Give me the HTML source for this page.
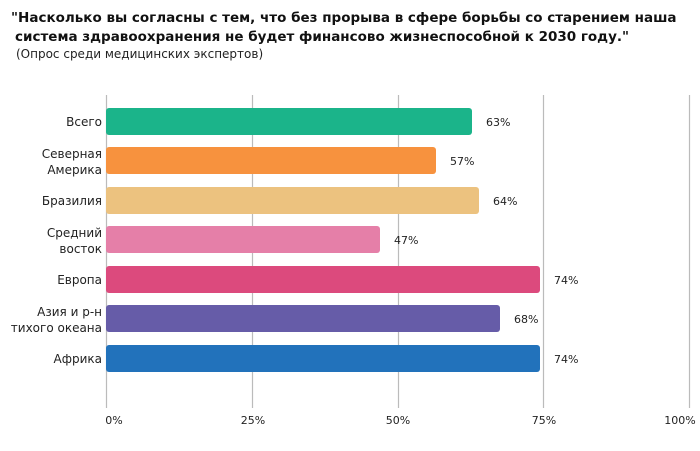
<!DOCTYPE html>
<html><head><meta charset="utf-8"><style>
body{margin:0;width:700px;height:446px;background:#fff;overflow:hidden;font-family:"Liberation Sans","DejaVu Sans",sans-serif;}
</style></head><body>
<svg width="700" height="446" xmlns="http://www.w3.org/2000/svg" font-family="DejaVu Sans, Liberation Sans, sans-serif">
<text x="11" y="22" font-size="13.5" font-weight="bold" fill="#111">"Насколько вы согласны с тем, что без прорыва в сфере борьбы со старением наша</text>
<text x="15" y="41" font-size="13.5" font-weight="bold" fill="#111">система здравоохранения не будет финансово жизнеспособной к 2030 году."</text>
<text x="16" y="58" font-size="12" fill="#222">(Опрос среди медицинских экспертов)</text>
<g stroke="#bbb" stroke-width="1.2">
<line x1="106.5" y1="95" x2="106.5" y2="408"/>
<line x1="252.5" y1="95" x2="252.5" y2="408"/>
<line x1="398.5" y1="95" x2="398.5" y2="408"/>
<line x1="543.5" y1="95" x2="543.5" y2="408"/>
<line x1="689.5" y1="95" x2="689.5" y2="408"/>
</g>
<g>
<rect x="106" y="108" width="366" height="27" rx="3" fill="#1bb48a"/>
<rect x="106" y="147" width="330" height="27" rx="3" fill="#f7923e"/>
<rect x="106" y="187" width="373" height="27" rx="3" fill="#ecc27f"/>
<rect x="106" y="226" width="274" height="27" rx="3" fill="#e57fa8"/>
<rect x="106" y="266" width="434" height="27" rx="3" fill="#dc4a7d"/>
<rect x="106" y="305" width="394" height="27" rx="3" fill="#665ca8"/>
<rect x="106" y="345" width="434" height="27" rx="3" fill="#2272bb"/>
</g>
<g font-size="11" fill="#222">
<text x="486" y="126">63%</text>
<text x="450" y="165">57%</text>
<text x="493" y="205">64%</text>
<text x="394" y="244">47%</text>
<text x="554" y="284">74%</text>
<text x="514" y="323">68%</text>
<text x="554" y="363">74%</text>
</g>
<g font-size="12" fill="#222" text-anchor="end">
<text x="102" y="126">Всего</text>
<text x="102" y="158">Северная</text>
<text x="102" y="174">Америка</text>
<text x="102" y="205">Бразилия</text>
<text x="102" y="237">Средний</text>
<text x="102" y="253">восток</text>
<text x="102" y="284">Европа</text>
<text x="102" y="316">Азия и р-н</text>
<text x="102" y="332">тихого океана</text>
<text x="102" y="363">Африка</text>
</g>
<g font-size="11" fill="#222" text-anchor="middle">
<text x="114" y="424">0%</text>
<text x="253" y="424">25%</text>
<text x="398" y="424">50%</text>
<text x="544" y="424">75%</text>
<text x="680" y="424">100%</text>
</g>
</svg>
</body></html>
